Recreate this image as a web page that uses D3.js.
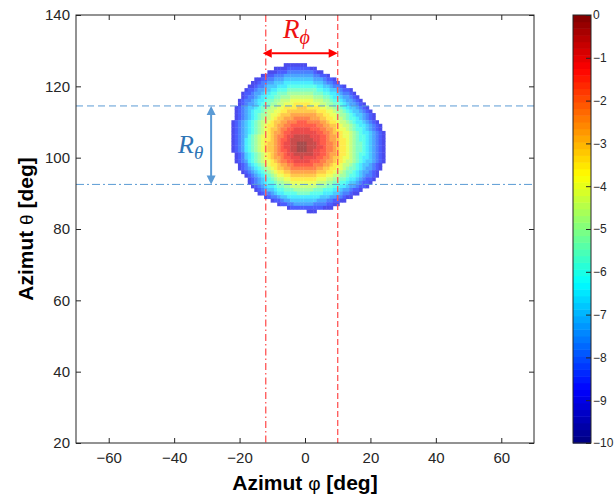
<!DOCTYPE html>
<html>
<head>
<meta charset="UTF-8">
<title>Azimut map</title>
<style>
	body { margin: 0; background: #fff; }
	svg { display: block; font-family: Arial, "Liberation Sans", sans-serif; }
	.tick text { fill: #262626; }
	.tick line { stroke: #262626; }
</style>
</head>
<body>
<script src="https://cdn.jsdelivr.net/npm/d3@7"></script>
<script>

'use strict';

// ---- data ----
var phiTicks = [-60, -40, -20, 0, 20, 40, 60];
var thetaTicks = [20, 40, 60, 80, 100, 120, 140];
var barTicks = [0, -1, -2, -3, -4, -5, -6, -7, -8, -9, -10];

// one row per degree of theta, from 126 down to 85; each char is a level in 0.5 dB steps
var topTheta = 126;
var levelCodes = "0123456789ABCDEFGHI";
var rowStart = [-6, -9, -11, -13, -15, -16, -17, -18, -19, -19, -20, -20, -21, -21, -21, -21,
	-22, -22, -22, -22, -22, -22, -22, -22, -22, -21, -21, -21, -20, -20, -19, -18, -17, -17,
	-16, -15, -14, -12, -10, -8, -5, 1];
var rowLevels = [
	"IIIIIII",
	"IIIIHHHHHHHII",
	"IIIHHHGGGGGGGGHII",
	"IIHHGGGFFFFFFFFFGGHHI",
	"IIHHGGFFFEEEEEEEEEFFFGHHI",
	"IIHGGFFEEEDDDDDDDDDEEEFGGHI",
	"IIHGGFEEEDDDCCCCCCCCCDDEEFGGHI",
	"IHHGFFEEDDCCCBBBBBBBBBCCDDEEFGHHI",
	"IHHGFFEDDCCBBBAAAAAAAABBBCCDDEFGGHI",
	"IHGGFEDDCCBBAAA9999999AAABBCDDEFFGHI",
	"IHGGFEDDCBBAA9998888888999AABCCDEFFGHI",
	"IHGFFEDCBBAA998887777788899AABBCDEFFGHI",
	"IHGFEEDCBBA9988777766677778899ABBCDEEFGHI",
	"IHGFEDCCBA998877666666666777889AABCDEEFGHI",
	"IHGFEDCBAA9887666555555556677889AABCDEEFGHI",
	"IHGFEDCBA998766555444445556677899ABCCDEFGHI",
	"IHGFEDCBA99876655444333444455677899ABCDDEFGHI",
	"IHGFEDCBA987765544333333334455667899ABCDDEFGHI",
	"IHGFEDCBA987665443322222333445567889ABCCDEFGHI",
	"IHGFEDCBA9876554332222222233445667889ABCDDEFGHI",
	"IHGFECBA98876544322111112223345567889ABCCDEFGHI",
	"IHGFDCBA98776543321111111223345567789ABCCDEFGHI",
	"IHGFDCBA98766543221100011123344567789ABBCDEFGHI",
	"IHGFDCBA98766543221100011122344567789ABBCDEFGHI",
	"IHGFDCBA98766543321100011223344567789ABBCDEFGHI",
	"IHGEDCBA9876544322111111223345567789ABCCDEFGHI",
	"IHGEDCBA9876554332221222233445667889ABCDDEFGHI",
	"IHGFDCBA9887654433222223334455677899ABCDEEFGHI",
	"IHGEDCBA98776554433333344455677899ABCDEEFGHI",
	"IHGFEDCBA987665544444444556677889ABBCDEFFGHI",
	"IHGFEDCBA9877665555555566677899ABBCDEFFGHI",
	"IHGFEDCBA98877666666667778899AABCCDEFGGHI",
	"IHGFEDCBA99887777777788899AABBCDDEFGHHI",
	"IHGFEDCCBAA9988888888999AABBCCDEEFGHHI",
	"IHGFEDDCBBAA99999999AAABBCCDDEFFGHHI",
	"IHGFEEDCCBBBAAAAAABBBCCCDDEFFGHHI",
	"IHGGFEDDCCCCBBBBCCCCDDDEEFGGHII",
	"IHGGFEEDDDDDDDDDDEEEFFGGHII",
	"IHHGFFEEEEEEEEFFFGGHHII",
	"IHHGGFFFFFFGGGGHHII",
	"IHHHHHHHHHHIII",
	"III"
];

var phiLines = [-12, 10];          // red marks of R_phi
var thetaLines = [114.5, 92.5];    // blue marks of R_theta
var arrowTheta = 129.3;            // height of the R_phi arrow
var arrowPhi = -28.7;              // position of the R_theta arrow

// ---- layout ----
var width = 614;
var height = 495;
var plot = {left: 76, right: 534, top: 15, bottom: 443};
var bar = {left: 573, right: 591};
var ink = "#262626";

var x = d3.scaleLinear().domain([-70, 70]).range([plot.left, plot.right]);
var y = d3.scaleLinear().domain([20, 140]).range([plot.bottom, plot.top]);
var yBar = d3.scaleLinear().domain([-10, 0]).range([plot.bottom, plot.top]);

function jet(v){
	var f = (v + 10) / 10;
	var c = function(t){ return Math.round(255 * Math.max(0, Math.min(1, t))); };
	return d3.rgb(c(1.5 - Math.abs(4 * f - 3)), c(1.5 - Math.abs(4 * f - 2)), c(1.5 - Math.abs(4 * f - 1))) + "";
}

var cells = [];
rowLevels.forEach(function(row, i){
	for(var j = 0; j < row.length; j++){
		cells.push({theta: topTheta - i, phi: rowStart[i] + j, value: -levelCodes.indexOf(row[j]) * 0.5});
	}
});

var svg = d3.select("body").append("svg")
	.attr("width", width)
	.attr("height", height);

svg.append("defs").append("clipPath").attr("id", "clip")
	.append("rect")
	.attr("x", plot.left).attr("y", plot.top)
	.attr("width", plot.right - plot.left).attr("height", plot.bottom - plot.top);

// heatmap, drawn opaque then faded as a whole
svg.append("g")
	.attr("clip-path", "url(#clip)")
	.attr("opacity", 0.7)
	.selectAll("rect")
	.data(cells)
	.enter().append("rect")
	.attr("x", function(d){ return x(d.phi - 0.5); })
	.attr("y", function(d){ return y(d.theta + 0.5); })
	.attr("width", function(d){ return x(d.phi + 0.5) - x(d.phi - 0.5) + 0.4; })
	.attr("height", function(d){ return y(d.theta - 0.5) - y(d.theta + 0.5) + 0.4; })
	.attr("fill", function(d){ return jet(d.value); });

// dashed guide lines
var guides = svg.append("g").attr("clip-path", "url(#clip)");
guides.selectAll("line.v")
	.data(phiLines)
	.enter().append("line")
	.attr("class", "v")
	.attr("x1", function(d){ return x(d); })
	.attr("x2", function(d){ return x(d); })
	.attr("y1", plot.top).attr("y2", plot.bottom)
	.attr("stroke", "#ff5555")
	.attr("stroke-width", 1.3)
	.attr("stroke-dasharray", function(d, i){ return i === 0 ? "7,3,1.5,3" : "6,3"; });

guides.selectAll("line.h")
	.data(thetaLines)
	.enter().append("line")
	.attr("class", "h")
	.attr("x1", plot.left).attr("x2", plot.right)
	.attr("y1", function(d){ return y(d); })
	.attr("y2", function(d){ return y(d); })
	.attr("stroke", "#5b9bd5")
	.attr("stroke-width", 1)
	.attr("stroke-dasharray", function(d, i){ return i === 0 ? "7,4" : "8,3,2,3"; });

// axes
svg.append("g")
	.attr("transform", "translate(0," + plot.bottom + ")")
	.call(d3.axisBottom(x).tickValues(phiTicks).tickSizeInner(-5).tickSizeOuter(0).tickPadding(9));
svg.append("g")
	.attr("transform", "translate(" + plot.left + ",0)")
	.call(d3.axisLeft(y).tickValues(thetaTicks).tickSizeInner(-5).tickSizeOuter(0).tickPadding(6));
svg.append("g")
	.attr("transform", "translate(0," + plot.top + ")")
	.call(d3.axisTop(x).tickValues(phiTicks).tickSizeInner(-5).tickSizeOuter(0).tickFormat(""));
svg.append("g")
	.attr("transform", "translate(" + plot.right + ",0)")
	.call(d3.axisRight(y).tickValues(thetaTicks).tickSizeInner(-5).tickSizeOuter(0).tickFormat(""));

svg.selectAll(".domain").remove();
svg.selectAll(".tick text").attr("font-size", 15).attr("font-family", "Arial, 'Liberation Sans', sans-serif");

svg.append("rect")
	.attr("x", plot.left).attr("y", plot.top)
	.attr("width", plot.right - plot.left).attr("height", plot.bottom - plot.top)
	.attr("fill", "none").attr("stroke", ink);

// axis titles
var xt = svg.append("text")
	.attr("x", (plot.left + plot.right) / 2)
	.attr("y", 490)
	.attr("text-anchor", "middle")
	.attr("font-size", 21)
	.attr("font-weight", "bold")
	.attr("fill", "#000");
xt.append("tspan").text("Azimut ");
xt.append("tspan").attr("font-weight", "normal").attr("font-size", 19).text("\u03c6");
xt.append("tspan").text(" [deg]");

var yt = svg.append("text")
	.attr("transform", "translate(33," + (plot.top + plot.bottom) / 2 + ") rotate(-90)")
	.attr("text-anchor", "middle")
	.attr("font-size", 21)
	.attr("font-weight", "bold")
	.attr("fill", "#000");
yt.append("tspan").text("Azimut ");
yt.append("tspan").attr("font-weight", "normal").attr("font-size", 19).text("\u03b8");
yt.append("tspan").text(" [deg]");

// colorbar
var bands = d3.range(64);
svg.append("g").selectAll("rect")
	.data(bands)
	.enter().append("rect")
	.attr("x", bar.left)
	.attr("width", bar.right - bar.left)
	.attr("y", function(d){ return yBar(-10 + (d + 1) * 10 / 64); })
	.attr("height", function(d){ return yBar(-10) - yBar(-10 + 10 / 64) + 0.5; })
	.attr("fill", function(d){ return jet(-10 + (d + 0.5) * 10 / 64); });

var gb = svg.append("g")
	.attr("transform", "translate(" + bar.right + ",0)")
	.call(d3.axisRight(yBar).tickValues(barTicks).tickSizeInner(-5).tickSizeOuter(0).tickPadding(2));
gb.select(".domain").remove();
gb.selectAll(".tick text").attr("font-size", 12).attr("font-family", "Arial, 'Liberation Sans', sans-serif");

svg.append("rect")
	.attr("x", bar.left).attr("y", plot.top)
	.attr("width", bar.right - bar.left).attr("height", plot.bottom - plot.top)
	.attr("fill", "none").attr("stroke", ink);

// arrows
function arrowHead(g, px, py, dx, dy, color){
	var L = 9, W = 4.5;
	var nx = -dy, ny = dx;
	g.append("path")
		.attr("d", "M" + px + "," + py +
			"L" + (px - dx * L + nx * W) + "," + (py - dy * L + ny * W) +
			"L" + (px - dx * L - nx * W) + "," + (py - dy * L - ny * W) + "Z")
		.attr("fill", color);
}

var ann = svg.append("g");
var ay = y(arrowTheta);
ann.append("line")
	.attr("x1", x(phiLines[0]) + 6).attr("x2", x(phiLines[1]) - 6)
	.attr("y1", ay).attr("y2", ay)
	.attr("stroke", "#ff0000").attr("stroke-width", 2);
arrowHead(ann, x(phiLines[0]) - 3, ay, -1, 0, "#ff0000");
arrowHead(ann, x(phiLines[1]), ay, 1, 0, "#ff0000");

var rp = ann.append("text")
	.attr("x", x(-1.2) - 18)
	.attr("y", ay - 15)
	.attr("font-family", "'Liberation Serif', 'DejaVu Serif', serif")
	.attr("font-style", "italic")
	.attr("font-size", 27)
	.attr("fill", "#ee1111");
rp.append("tspan").text("R");
rp.append("tspan").attr("font-size", 20).attr("dy", 6).text("\u03d5");

var ax = x(arrowPhi);
ann.append("line")
	.attr("x1", ax).attr("x2", ax)
	.attr("y1", y(thetaLines[0]) + 6).attr("y2", y(thetaLines[1]) - 6)
	.attr("stroke", "#5b9bd5").attr("stroke-width", 2);
arrowHead(ann, ax, y(thetaLines[0]), 0, -1, "#5b9bd5");
arrowHead(ann, ax, y(thetaLines[1]), 0, 1, "#5b9bd5");

var rt = ann.append("text")
	.attr("x", ax - 33)
	.attr("y", (y(thetaLines[0]) + y(thetaLines[1])) / 2 + 8)
	.attr("font-family", "'Liberation Serif', 'DejaVu Serif', serif")
	.attr("font-style", "italic")
	.attr("font-size", 26)
	.attr("fill", "#2e75b6");
rt.append("tspan").text("R");
rt.append("tspan").attr("font-size", 19).attr("dy", 6).text("\u03b8");

</script>
</body>
</html>
